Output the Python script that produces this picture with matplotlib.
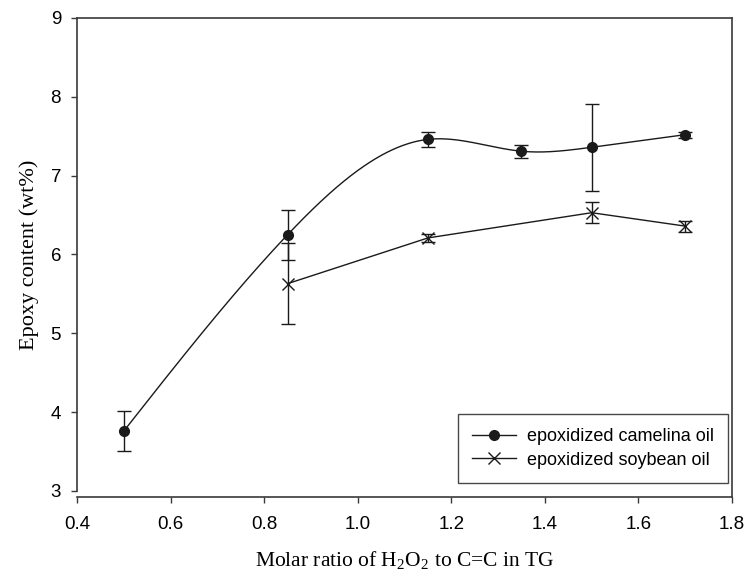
import numpy as np
import matplotlib.pyplot as plt

# Data
camelina_x = [0.5, 0.85, 1.15, 1.35, 1.5, 1.7]
camelina_y = [3.76, 6.25, 7.46, 7.31, 7.36, 7.52]
camelina_err = [0.25, 0.32, 0.10, 0.08, 0.55, 0.04]

soybean_x = [0.85, 1.15, 1.5, 1.7]
soybean_y = [5.63, 6.21, 6.53, 6.36]
soybean_err = [0.51, 0.05, 0.13, 0.07]

x_ticks = [0.4, 0.6, 0.8, 1.0, 1.2, 1.4, 1.6, 1.8]
y_ticks = [3, 4, 5, 6, 7, 8, 9]


def natural_spline(x, y, n=400):
    # natural cubic spline through the points (smooth curve like SigmaPlot)
    x = np.asarray(x, float)
    y = np.asarray(y, float)
    k = len(x)
    h = np.diff(x)
    A = np.zeros((k, k))
    r = np.zeros(k)
    A[0, 0] = A[-1, -1] = 1
    for i in range(1, k - 1):
        A[i, i - 1] = h[i - 1]
        A[i, i] = 2 * (h[i - 1] + h[i])
        A[i, i + 1] = h[i]
        r[i] = 6 * ((y[i + 1] - y[i]) / h[i] - (y[i] - y[i - 1]) / h[i - 1])
    M = np.linalg.solve(A, r)
    xs = np.linspace(x[0], x[-1], n)
    idx = np.clip(np.searchsorted(x, xs) - 1, 0, k - 2)
    x0, x1 = x[idx], x[idx + 1]
    hh = x1 - x0
    ys = (M[idx] * (x1 - xs) ** 3 / (6 * hh) + M[idx + 1] * (xs - x0) ** 3 / (6 * hh)
          + (y[idx] / hh - M[idx] * hh / 6) * (x1 - xs)
          + (y[idx + 1] / hh - M[idx + 1] * hh / 6) * (xs - x0))
    return xs, ys


plt.rcParams['mathtext.fontset'] = 'custom'
plt.rcParams['mathtext.rm'] = 'Liberation Serif'

sans = ['Liberation Sans', 'DejaVu Sans']
serif = ['Liberation Serif', 'DejaVu Serif']
col = '#1a1a1a'
spine_col = '#3a3a3a'

fig = plt.figure(figsize=(7.49, 5.75), dpi=100)
ax = fig.add_axes([0.1028, 0.1461, 0.8745, 0.8226])

# SigmaPlot style: x axis line sits a little below the y=3 level
# (set before ticks, since moving a spine resets its ticks)
for s in ax.spines.values():
    s.set_linewidth(1.2)
    s.set_color(spine_col)
ax.spines['bottom'].set_position(('outward', 4.5))
ax.spines['right'].set_visible(False)
off = 6.0 / (0.8226 * 575)
ax.plot([1, 1], [-off, 1], transform=ax.transAxes, clip_on=False,
        color=spine_col, lw=1.2, solid_capstyle='projecting')

xs, ys = natural_spline(camelina_x, camelina_y)
ax.plot(xs, ys, color=col, lw=1.0)
ax.errorbar(camelina_x, camelina_y, yerr=camelina_err, fmt='o', color=col,
            ms=7, capsize=4.7, elinewidth=1.0, capthick=1.0)
ax.plot([], [], '-o', color=col, ms=7, lw=1.0, label='epoxidized camelina oil')

ax.errorbar(soybean_x, soybean_y, yerr=soybean_err, fmt='-x', color=col,
            ms=8, mew=1.0, lw=1.0, capsize=4.7, elinewidth=1.0, capthick=1.0)
ax.plot([], [], '-x', color=col, ms=8, mew=1.0, lw=1.0, label='epoxidized soybean oil')

ax.set_xlim(0.4, 1.8)
ax.set_ylim(3, 9)
ax.set_xticks(x_ticks)
ax.set_xticklabels(['%.1f' % v for v in x_ticks], family=sans, fontsize=13.5)
ax.set_yticks(y_ticks)
ax.set_yticklabels([str(v) for v in y_ticks], family=sans, fontsize=13.5)
ax.tick_params(direction='out', length=4.5, width=1.0, color=spine_col, pad=7,
               top=False, right=False)
ax.tick_params(axis='x', pad=9)

ax.set_xlabel(r'Molar ratio of H$_\mathregular{2}$O$_\mathregular{2}$ to C=C in TG',
              family=serif, fontsize=15.5, labelpad=12)
ax.set_ylabel('Epoxy content (wt%)', family=serif, fontsize=16, labelpad=8)

leg = ax.legend(loc='lower right', prop={'family': sans, 'size': 13},
                frameon=True, fancybox=False, edgecolor=col, borderpad=0.8,
                labelspacing=0.35, handlelength=2.4, handletextpad=0.6,
                borderaxespad=0, bbox_to_anchor=(0.994, 0.017))
leg.get_frame().set_linewidth(1.0)

fig.savefig('out.png', dpi=100)
